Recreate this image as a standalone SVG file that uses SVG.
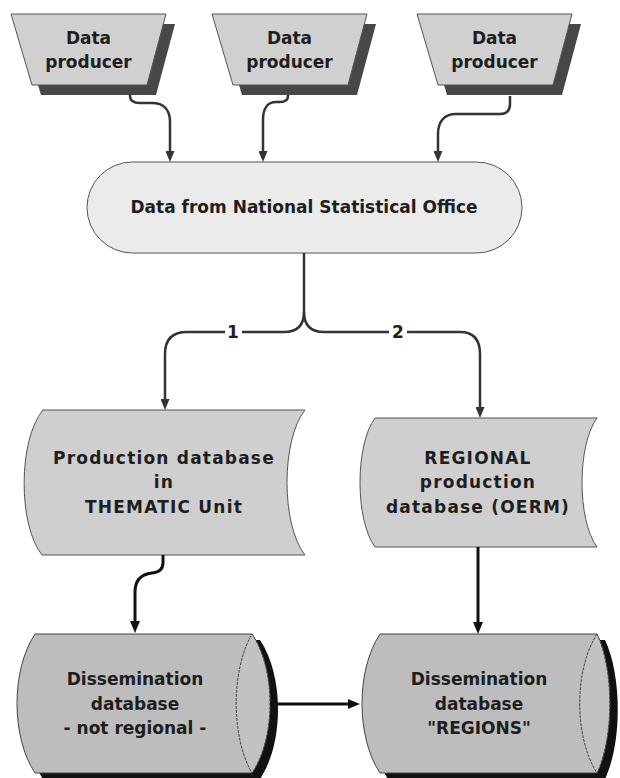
<svg xmlns="http://www.w3.org/2000/svg" width="620" height="778" viewBox="0 0 620 778">
<style>
  .t { font-family: "DejaVu Sans", Verdana, sans-serif; font-weight: bold; font-size: 17px; fill: #1e1e1e; text-anchor: middle; }
  .ts { letter-spacing: 1.2px; }
  .prod { fill: #d0d0d0; stroke: #555; stroke-width: 1; }
  .pshadow { fill: #474747; }
  .term { fill: #ebebeb; stroke: #555; stroke-width: 1; }
  .db { fill: #cfcfcf; stroke: #555; stroke-width: 1; }
  .cyl { fill: #bdbdbd; stroke: #444; stroke-width: 1; }
  .lens { fill: #c2c2c2; stroke: #444; stroke-width: 1; stroke-dasharray: 3 1; }
  .cshadow { fill: #111; }
  .c { fill: none; stroke: #333; stroke-width: 2.5; marker-end: url(#ah); }
  .cb { fill: none; stroke: #111; stroke-width: 3; marker-end: url(#ahb); }
</style>
<defs>
  <marker id="ah" viewBox="0 0 11 9" refX="3" refY="4.5" markerWidth="11" markerHeight="9" markerUnits="userSpaceOnUse" orient="auto">
    <path d="M0,0 L11,4.5 L0,9 z" fill="#333"/>
  </marker>
  <marker id="ahb" viewBox="0 0 12 10" refX="3" refY="5" markerWidth="12" markerHeight="10" markerUnits="userSpaceOnUse" orient="auto">
    <path d="M0,0 L12,5 L0,10 z" fill="#111"/>
  </marker>
</defs>
<rect width="620" height="778" fill="#fff"/>

<g id="producer1">
  <polygon class="pshadow" points="20,24 175,24 156,95 41,95"/>
  <polygon class="prod" points="11,14 166,14 147,85 32,85"/>
  <text class="t" x="88.5" y="44">Data</text>
  <text class="t" x="88.5" y="68">producer</text>
</g>
<g id="producer2">
  <polygon class="pshadow" points="221,24 376,24 357,95 242,95"/>
  <polygon class="prod" points="212,14 367,14 348,85 233,85"/>
  <text class="t" x="289.5" y="44">Data</text>
  <text class="t" x="289.5" y="68">producer</text>
</g>
<g id="producer3">
  <polygon class="pshadow" points="426,24 581,24 562,95 447,95"/>
  <polygon class="prod" points="417,14 572,14 553,85 438,85"/>
  <text class="t" x="494.5" y="44">Data</text>
  <text class="t" x="494.5" y="68">producer</text>
</g>

<g id="nso">
  <rect class="term" x="87" y="162" width="435" height="91" rx="45.5" ry="45.5"/>
  <text class="t" x="304" y="213">Data from National Statistical Office</text>
</g>

<g id="proddb-thematic">
  <path class="db" d="M43,410 H305 C281,440 281,525 305,555 H42 C18,525 18,440 43,410 Z"/>
  <text class="t ts" x="164" y="464">Production database</text>
  <text class="t ts" x="164" y="488">in</text>
  <text class="t ts" x="164" y="513">THEMATIC Unit</text>
</g>

<g id="proddb-regional">
  <path class="db" d="M375,418 H597 C577,445 577,520 597,547 H375 C355,520 355,445 375,418 Z"/>
  <text class="t ts" x="478" y="464">REGIONAL</text>
  <text class="t ts" x="478" y="488">production</text>
  <text class="t ts" x="478" y="513">database (OERM)</text>
</g>

<g id="diss-notregional">
  <path class="cshadow" d="M43,640 H260 C284,676 284,743 260,779 H43 C19,743 19,676 43,640 Z"/>
  <path class="cyl" d="M35,634 H252 C276,670 276,737 252,773 H35 C11,737 11,670 35,634 Z"/>
  <path class="lens" d="M252,634 C276,670 276,737 252,773 C231,737 231,670 252,634 Z"/>
  <text class="t" x="135" y="685">Dissemination</text>
  <text class="t" x="135" y="710">database</text>
  <text class="t" x="135" y="734">- not regional -</text>
</g>

<g id="diss-regions">
  <path class="cshadow" d="M388,640 H605 C622,676 622,743 605,779 H388 C364,743 364,676 388,640 Z"/>
  <path class="cyl" d="M380,634 H597 C614,670 614,737 597,773 H380 C356,737 356,670 380,634 Z"/>
  <path class="lens" d="M597,634 C614,670 614,737 597,773 C574,737 574,670 597,634 Z"/>
  <text class="t" x="479" y="685">Dissemination</text>
  <text class="t" x="479" y="710">database</text>
  <text class="t" x="479" y="734">"REGIONS"</text>
</g>

<g id="connectors">
  <path class="c" d="M130,95 V96 Q130,103 140,103 H152 C164,103 170,110 170,122 V154"/>
  <path class="c" d="M288,95 V96 Q288,102 280,102 H276 C268,102 263,108 263,120 V154"/>
  <path class="c" d="M510,96 V104 Q510,114 500,114 H456 C444,114 438,122 438,134 V154"/>
  <path class="c" d="M304,253 V312 Q304,332 284,332 H187 Q165,332 165,354 V402"/>
  <path class="c" d="M304,312 Q304,332 324,332 H460 Q480,332 480,354 V410"/>
  <path class="cb" d="M163,555 V563 Q163,572 152,573 Q135,575 135,592 V624"/>
  <path class="cb" d="M478,547 V625"/>
  <path class="cb" d="M270,704 H351"/>
</g>

<g id="branch-labels">
  <rect x="225" y="322" width="17" height="20" fill="#fff"/>
  <text class="t" x="233" y="338">1</text>
  <rect x="389" y="322" width="18" height="20" fill="#fff"/>
  <text class="t" x="398" y="338">2</text>
</g>
</svg>
